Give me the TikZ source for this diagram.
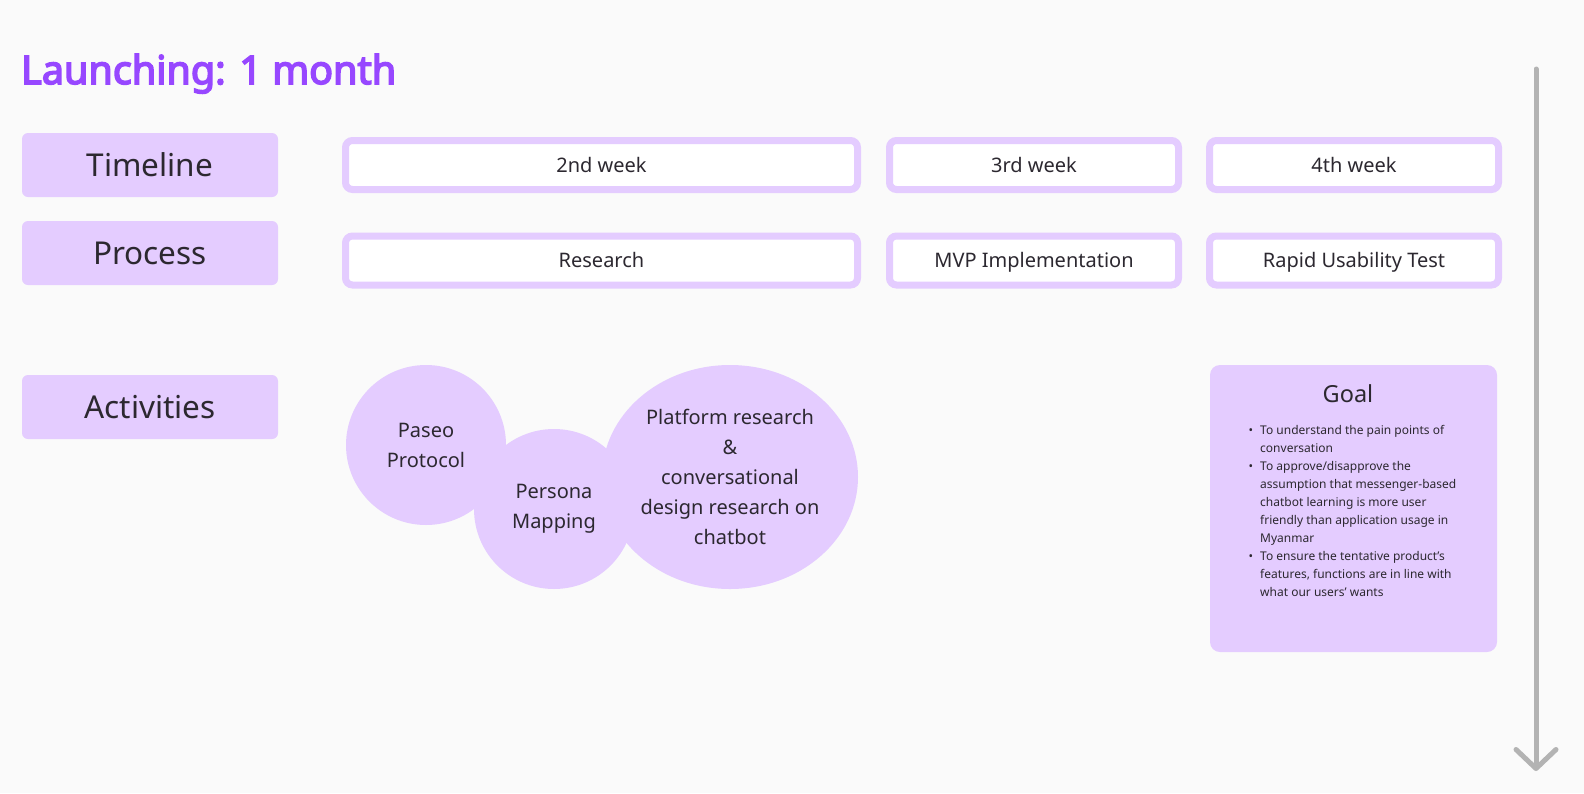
\documentclass[tikz,border=0pt]{standalone}
\usepackage{fontspec}
\setmainfont{Noto Sans}
\newfontfamily\headfont{Noto Sans}[FakeBold=4]
\usetikzlibrary{shapes.geometric,arrows.meta}

\definecolor{lilac}{HTML}{E4CCFF}
\definecolor{launch}{HTML}{9747FF}
\definecolor{ink}{HTML}{2C2830}
\definecolor{paper}{HTML}{FAFAFA}
\definecolor{rail}{HTML}{B3B3B3}

\tikzset{
rowhead/.style={fill=lilac,rounded corners=6pt,minimum width=256pt,minimum height=64pt,
  font=\fontsize{31.5}{31.5}\selectfont,text height=22pt,text depth=0pt},
slot/.style={draw=lilac,line width=7pt,fill=white,rounded corners=7pt,minimum height=49pt,
  font=\fontsize{20}{20}\selectfont,text height=14.5pt,text depth=0pt},
blob/.style={fill=lilac,align=center,font=\fontsize{20}{30}\selectfont},
goalnote/.style={align=left,font=\fontsize{12}{18}\selectfont}}

\begin{document}
\begin{tikzpicture}
  [x=1pt,y=-1pt,
   every node/.style={inner sep=0pt,text=ink}]
  \fill[paper] (0,0) rectangle (1584,793);
  \useasboundingbox (0,0) rectangle (1584,793);

  \node[anchor=base west,text=launch,font=\headfont\fontsize{39.5}{39.5}\selectfont] (hdr) at (21,84) {Launching: 1 month};

  % row heads
  \node[rowhead] (tl) at (150,165) {Timeline};
  \node[rowhead] (pr) at (150,253) {Process};
  \node[rowhead] (act) at (150,407) {Activities};

  % weeks and process
  \node[slot,minimum width=512pt] (wk2) at (601.5,165) {2nd week};
  \node[slot,minimum width=289pt] (wk3) at (1034,165) {3rd week};
  \node[slot,minimum width=289pt] (wk4) at (1354,165) {4th week};
  \node[slot,minimum width=512pt] (res) at (601.5,260.5) {Research};
  \node[slot,minimum width=289pt] (mvp) at (1034,260.5) {MVP Implementation};
  \node[slot,minimum width=289pt] (rut) at (1354,260.5) {Rapid Usability Test};

  % activities
  \node[blob,circle,minimum size=160pt] (paseo) at (426,445) {Paseo\\Protocol};
  \node[blob,circle,minimum size=160pt] (persona) at (554,509) {Persona\\Mapping};
  \node[blob,ellipse,minimum width=256pt,minimum height=224pt] (platform) at (730,477)
    {Platform research\\\&\\conversational\\design research on\\chatbot};

  % goal card
  \node[fill=lilac,rounded corners=10pt,minimum width=287pt,minimum height=287pt] (goal) at (1353.5,508.5) {};
  \node[anchor=base,font=\fontsize{23.5}{23.5}\selectfont] (goalhd) at (1348,402) {Goal};
  \node[goalnote,anchor=north west] (goaltxt) at (1260,425)
    {\llap{\textbullet\hspace{7pt}}To understand the pain points of\\
     conversation\\
     \llap{\textbullet\hspace{7pt}}To approve/disapprove the\\
     assumption that messenger-based\\
     chatbot learning is more user\\
     friendly than application usage in\\
     Myanmar\\
     \llap{\textbullet\hspace{7pt}}To ensure the tentative product's\\
     features, functions are in line with\\
     what our users' wants};

  % time runs down
  \coordinate (railtop) at (1536,69);
  \coordinate (railend) at (1536,771);
  \draw[rail,line width=5pt,line cap=round,-{Straight Barb[length=19pt,width=40pt,round]}] (railtop) -- (railend);
\end{tikzpicture}
\end{document}
